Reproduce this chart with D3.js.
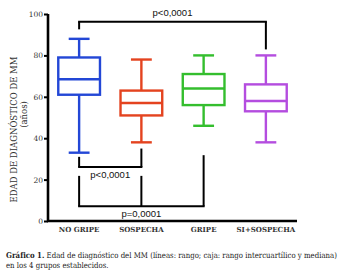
<!DOCTYPE html>
<html lang="es">
<head>
  <meta charset="UTF-8">
  <title>Gráfico 1</title>
  <style>
    body { margin: 0; background: #fff; }
    svg { display: block; }
    svg text.serif { font-family: 'DejaVu Serif', 'Liberation Serif', serif; }
    svg text.sans { font-family: 'Liberation Sans', Arial, sans-serif; }
  </style>
</head>
<body>
  <script src="https://d3js.org/d3.v7.min.js"></script>
  <script>
    const width = 347;
    const height = 277;
    const padding = { left: 48, right: 50, top: 14, bottom: 56 };

    // datos
    const groups = ['NO GRIPE', 'SOSPECHA', 'GRIPE', 'SI+SOSPECHA'];
    const mins = [33, 38, 46, 38];
    const q1 = [61, 51, 56, 53];
    const medians = [68.5, 57, 64, 58];
    const q3 = [79, 63, 71, 66];
    const maxs = [88, 78, 80, 80];
    const colors = ['#2347d6', '#e4431f', '#34be2e', '#b44ddf'];
    const yTicks = [0, 20, 40, 60, 80, 100];

    // comparaciones: grupos unidos, nivel de la barra, altura de cada pata
    const brackets = [
      { label: 'p<0,0001', legs: [0, 3], tops: [92.6, 82.9], level: 96.3, above: true },
      { label: 'p<0,0001', legs: [0, 1], tops: [31, 35], level: 26.1, above: false },
      { label: 'p=0,0001', legs: [0, 1, 2], tops: [21.8, 21.8, 31.8], level: 7.1, above: false }
    ];

    const ds = groups.map((g, i) => ({
      name: g, min: mins[i], q1: q1[i], median: medians[i], q3: q3[i], max: maxs[i], color: colors[i]
    }));

    const x = d3.scaleBand()
      .domain(groups)
      .range([padding.left, width - padding.right]);

    const y = d3.scaleLinear()
      .domain([0, 100])
      .range([height - padding.bottom, padding.top]);

    const svg = d3.select('body')
      .append('svg')
      .attr('width', width)
      .attr('height', height);

    const cx = d => x(d.name) + x.bandwidth() / 2;
    const boxW = x.bandwidth() * 0.67;
    const capW = boxW * 0.5;

    const box = svg.append('g')
      .selectAll('g')
      .data(ds)
      .join('g')
      .attr('stroke', d => d.color)
      .attr('stroke-width', 2.4)
      .attr('fill', 'none');

    // bigotes
    box.append('line')
      .attr('x1', cx).attr('x2', cx)
      .attr('y1', d => y(d.min)).attr('y2', d => y(d.q1));
    box.append('line')
      .attr('x1', cx).attr('x2', cx)
      .attr('y1', d => y(d.q3)).attr('y2', d => y(d.max));
    box.append('line')
      .attr('x1', d => cx(d) - capW / 2).attr('x2', d => cx(d) + capW / 2)
      .attr('y1', d => y(d.min)).attr('y2', d => y(d.min));
    box.append('line')
      .attr('x1', d => cx(d) - capW / 2).attr('x2', d => cx(d) + capW / 2)
      .attr('y1', d => y(d.max)).attr('y2', d => y(d.max));
    // caja
    box.append('rect')
      .attr('x', d => cx(d) - boxW / 2)
      .attr('width', boxW)
      .attr('y', d => y(d.q3))
      .attr('height', d => y(d.q1) - y(d.q3))
      .attr('fill', 'white');
    box.append('line')
      .attr('x1', d => cx(d) - boxW / 2).attr('x2', d => cx(d) + boxW / 2)
      .attr('y1', d => y(d.median)).attr('y2', d => y(d.median));

    // barras de significación
    const gx = i => x(groups[i]) + x.bandwidth() / 2;
    const br = svg.append('g')
      .attr('stroke', '#000')
      .attr('stroke-width', 2)
      .attr('fill', 'none');
    brackets.forEach(b => {
      const first = gx(b.legs[0]);
      const last = gx(b.legs[b.legs.length - 1]);
      br.append('line')
        .attr('x1', first - 1).attr('x2', last + 1)
        .attr('y1', y(b.level)).attr('y2', y(b.level));
      b.legs.forEach((g, k) => {
        br.append('line')
          .attr('x1', gx(g)).attr('x2', gx(g))
          .attr('y1', y(b.tops[k])).attr('y2', y(b.level));
      });
      svg.append('text')
        .attr('class', 'sans')
        .attr('x', (first + last) / 2)
        .attr('y', b.above ? y(b.level) - 6 : y(b.level) + 11)
        .attr('text-anchor', 'middle')
        .attr('font-size', 9.5)
        .attr('fill', '#111')
        .text(b.label);
    });

    // ejes
    const yAxis = d3.axisLeft(y)
      .tickValues(yTicks)
      .tickSize(4)
      .tickPadding(1);
    const gy = svg.append('g')
      .attr('transform', `translate(${padding.left}, 0)`)
      .call(yAxis);
    gy.attr('font-family', null);
    gy.select('.domain').attr('stroke-width', 2.6).attr('d', `M0,${y(0) + 1}V${y(100)}`);
    gy.selectAll('.tick line').attr('stroke-width', 2);
    gy.selectAll('.tick text')
      .attr('class', 'serif')
      .attr('font-size', 7.5)
      .attr('fill', '#333');

    const xAxis = d3.axisBottom(x).tickSize(0).tickPadding(6);
    const gxAxis = svg.append('g')
      .attr('transform', `translate(0, ${y(0)})`)
      .call(xAxis);
    gxAxis.attr('font-family', null);
    gxAxis.select('.domain').attr('stroke-width', 2.6)
      .attr('d', `M${padding.left - 1},0H${width - padding.right}`);
    gxAxis.selectAll('.tick text')
      .attr('class', 'serif')
      .attr('font-size', 7)
      .attr('font-weight', 'bold')
      .attr('fill', '#333');

    // título del eje y
    const midY = (y(0) + y(100)) / 2;
    svg.append('text')
      .attr('class', 'serif')
      .attr('transform', `translate(17, ${midY + 12}) rotate(-90)`)
      .attr('text-anchor', 'middle')
      .attr('font-size', 8.5)
      .attr('fill', '#333')
      .text('EDAD DE DIAGNÓSTICO DE MM');
    svg.append('text')
      .attr('class', 'serif')
      .attr('transform', `translate(27, ${midY - 3}) rotate(-90)`)
      .attr('text-anchor', 'middle')
      .attr('font-size', 8.5)
      .attr('fill', '#333')
      .text('(años)');

    // pie de figura (estrechado horizontalmente para caber en 331px)
    const capG = svg.append('g');
    const cap1 = capG.append('text')
      .attr('class', 'serif')
      .attr('font-size', 8)
      .attr('fill', '#222')
      .attr('y', 0);
    cap1.append('tspan').attr('font-weight', 'bold').text('Gráfico 1.');
    cap1.append('tspan').text(' Edad de diagnóstico del MM (líneas: rango; caja: rango intercuartílico y mediana)');
    capG.append('text')
      .attr('class', 'serif')
      .attr('font-size', 8)
      .attr('fill', '#222')
      .attr('y', 10)
      .text('en los 4 grupos establecidos.');
    const natural = cap1.node().getComputedTextLength();
    const sx = 331 / natural;
    capG.attr('transform', `translate(6, 258) scale(${sx}, 1)`);
  </script>
</body>
</html>
